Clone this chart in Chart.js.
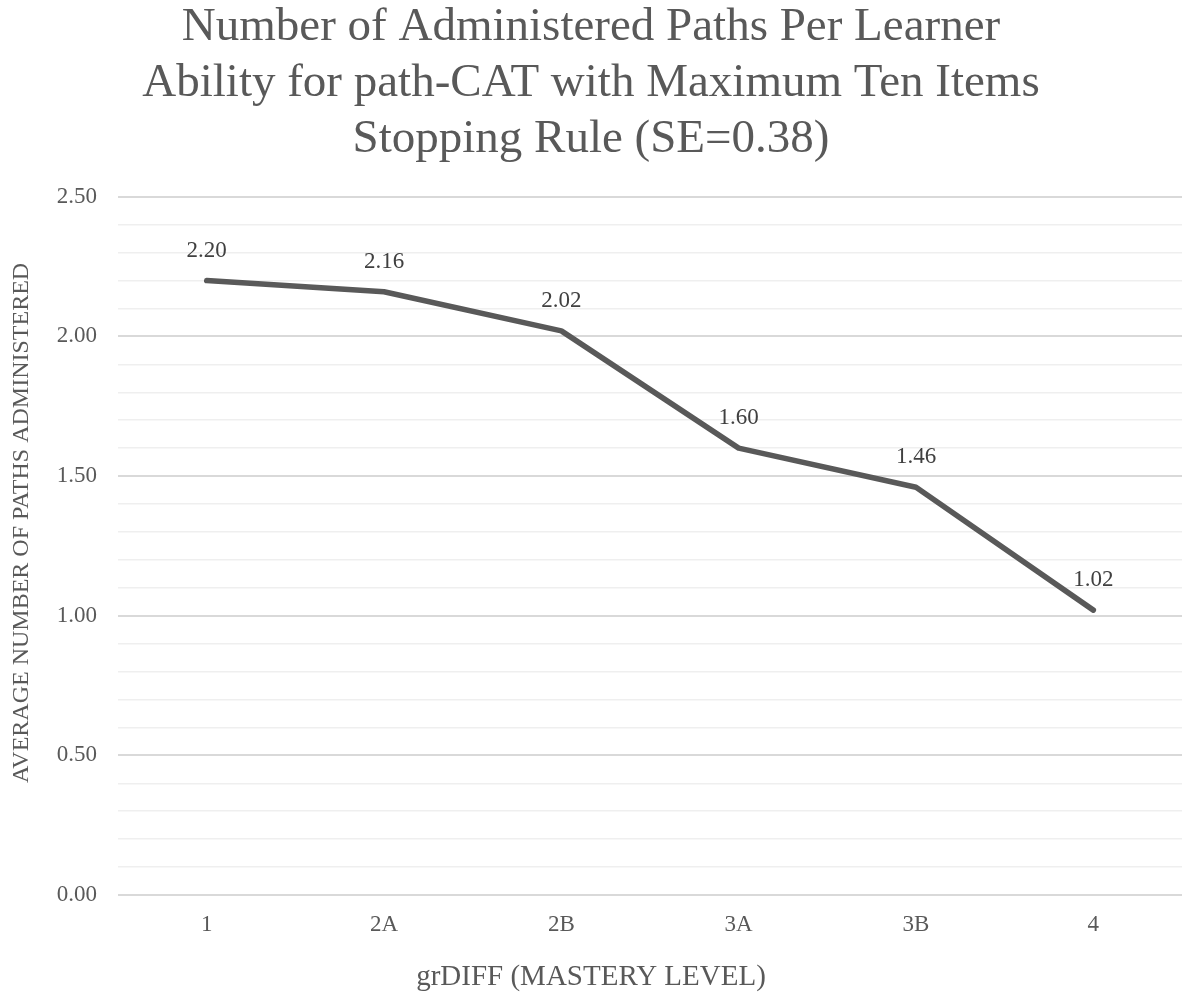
<!DOCTYPE html>
<html>
<head>
<meta charset="utf-8">
<script src="https://cdn.jsdelivr.net/npm/chart.js@4.4.1/dist/chart.umd.min.js"></script>
<style>
  html, body { margin: 0; padding: 0; background: #ffffff; }
  #wrap { width: 1182px; height: 1008px; }
</style>
</head>
<body>
<div id="wrap"><canvas id="c" width="1182" height="1008"></canvas></div>
<script>
const categories = ["1", "2A", "2B", "3A", "3B", "4"];
const avgPaths = [2.20, 2.16, 2.02, 1.60, 1.46, 1.02];
const titleLines = ["Number of Administered Paths Per Learner", "Ability for path-CAT with Maximum Ten Items", "Stopping Rule (SE=0.38)"];
const yTitle = "AVERAGE NUMBER OF PATHS ADMINISTERED";
const xTitle = "grDIFF (MASTERY LEVEL)";

const FONT = "'Liberation Serif', 'Times New Roman', serif";

const labelPlugin = {
  id: 'pointLabels',
  afterDatasetsDraw(chart) {
    const ctx = chart.ctx;
    const meta = chart.getDatasetMeta(0);
    ctx.save();
    ctx.font = "23px " + FONT;
    ctx.fillStyle = "#404040";
    ctx.textAlign = "center";
    ctx.textBaseline = "middle";
    meta.data.forEach((pt, i) => {
      ctx.fillText(avgPaths[i].toFixed(2), pt.x, pt.y - 30);
    });
    ctx.restore();
  }
};

const axisTitlePlugin = {
  id: 'axisTitles',
  afterDraw(chart) {
    const ctx = chart.ctx;
    const a = chart.chartArea;
    ctx.save();
    ctx.fillStyle = "#595959";
    ctx.textAlign = "center";
    ctx.textBaseline = "middle";
    // y title
    ctx.save();
    ctx.translate(22, (a.top + a.bottom) / 2 - 23);
    ctx.rotate(-Math.PI / 2);
    ctx.font = "24px " + FONT;
    ctx.fillText(yTitle, 0, 0);
    ctx.restore();
    // x title
    ctx.font = "29px " + FONT;
    ctx.fillText(xTitle, chart.width / 2, a.bottom + 82);
    ctx.restore();
  }
};

new Chart(document.getElementById('c'), {
  type: 'line',
  data: {
    labels: categories,
    datasets: [{
      data: avgPaths,
      borderColor: '#595959',
      borderWidth: 5.5,
      borderCapStyle: 'round',
      borderJoinStyle: 'round',
      pointRadius: 0,
      pointHoverRadius: 0,
      tension: 0,
      fill: false
    }]
  },
  options: {
    responsive: false,
    animation: false,
    layout: { padding: 0 },
    plugins: {
      legend: { display: false },
      tooltip: { enabled: false },
      title: {
        display: true,
        text: titleLines,
        color: '#595959',
        font: { family: FONT, size: 47, weight: 'normal', lineHeight: 1.19 },
        padding: { top: 0, bottom: 29 }
      }
    },
    scales: {
      x: {
        offset: true,
        grid: { display: false, drawTicks: false },
        border: { display: false },
        ticks: {
          color: '#595959',
          font: { family: FONT, size: 23 },
          padding: 16,
          maxRotation: 0,
          autoSkip: false
        },
        afterFit(scale) { scale.height = 113; }
      },
      y: {
        min: 0,
        max: 2.5,
        border: { display: false },
        grid: {
          drawTicks: false,
          color(ctx) {
            const v = ctx.tick ? ctx.tick.value : 0;
            return Math.abs(Math.round(v * 10) % 5) === 0 ? '#d9d9d9' : '#efefef';
          },
          lineWidth(ctx) {
            const v = ctx.tick ? ctx.tick.value : 0;
            return Math.abs(Math.round(v * 10) % 5) === 0 ? 2 : 1.5;
          }
        },
        ticks: {
          stepSize: 0.1,
          autoSkip: false,
          color: '#595959',
          font: { family: FONT, size: 23 },
          padding: 21,
          callback(value) {
            const t = Math.round(value * 10);
            return t % 5 === 0 ? (t / 10).toFixed(2) : '';
          }
        },
        afterFit(scale) { scale.width = 118; }
      }
    }
  },
  plugins: [labelPlugin, axisTitlePlugin]
});
</script>
</body>
</html>
